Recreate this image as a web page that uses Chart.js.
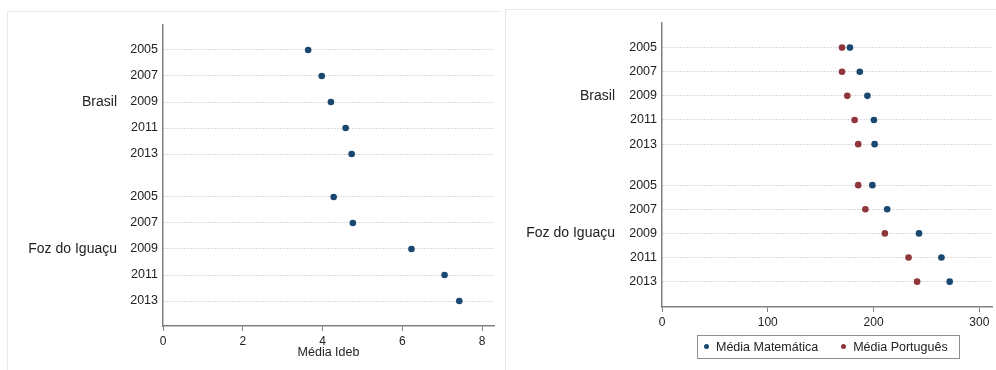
<!DOCTYPE html>
<html>
<head>
<meta charset="utf-8">
<script src="https://cdn.jsdelivr.net/npm/chart.js@4/dist/chart.umd.min.js"></script>
<style>
html,body{margin:0;padding:0;background:#fff;}
body{width:996px;height:370px;position:relative;overflow:hidden;font-family:"Liberation Sans",Arial,sans-serif;}
.panel{position:absolute;border-left:1px solid #e3ebed;border-top:1px solid #e3ebed;}
#p1{left:7px;top:11px;width:493px;height:359px;}
#p2{left:505px;top:9px;width:491px;height:361px;}
canvas{position:absolute;top:0;}
#c1{left:0;}
#c2{left:500px;}
#legend{position:absolute;left:697px;top:335px;width:261px;height:22px;line-height:22px;border:1px solid #8f8f8f;font-size:12.5px;color:#222;white-space:nowrap;padding-left:6px;box-sizing:content-box;width:255px;}
#legend .dot{display:inline-block;width:5px;height:5px;border-radius:50%;vertical-align:middle;margin-right:7px;position:relative;top:-1px;}
#legend .item{display:inline-block;}
#legend .item + .item{margin-left:23px;}
</style>
</head>
<body>
<div class="panel" id="p1"></div>
<div class="panel" id="p2"></div>
<canvas id="c1" width="500" height="370"></canvas>
<canvas id="c2" width="496" height="370"></canvas>
<div id="legend"></div>
<script>
// ---- data ----
const groups = ["Brasil", "Foz do Iguaçu"];
const years = ["2005", "2007", "2009", "2011", "2013"];
const idebBrasil = [3.64, 3.98, 4.21, 4.58, 4.73];
const idebFoz = [4.28, 4.76, 6.23, 7.06, 7.43];
const matBrasil = [177.7, 187.0, 194.2, 200.4, 201.0];
const matFoz = [198.9, 212.9, 243.0, 264.2, 272.0];
const porBrasil = [170.2, 170.2, 175.2, 182.1, 185.5];
const porFoz = [185.5, 192.3, 210.7, 233.1, 241.2];
const seriesNames = ["Média Matemática", "Média Português"];
const idebTitle = "Média Ideb";
const idebTicks = [0, 2, 4, 6, 8];
const scoreTicks = [0, 100, 200, 300];

// ---- styling ----
const NAVY = "#1a476f";
const MAROON = "#90353b";
const FAMILY = '"Liberation Sans", Arial, sans-serif';
const TEXT = "#222";
const AXIS = "#808080";

function rowPos(g, i, gap) { return g * (years.length + gap) + i; }

function points(groupValues, gap) {
  const out = [];
  groupValues.forEach((vals, g) => vals.forEach((v, i) => out.push({x: v, y: rowPos(g, i, gap)})));
  return out;
}

const groupLabelPlugin = {
  id: "groupLabels",
  afterDraw(chart, args, opts) {
    const ys = chart.scales.y, ctx = chart.ctx;
    ctx.save();
    ctx.font = "14px " + FAMILY;
    ctx.fillStyle = TEXT;
    ctx.textAlign = "right";
    ctx.textBaseline = "middle";
    groups.forEach((g, gi) => {
      ctx.fillText(g, opts.x, ys.getPixelForValue(rowPos(gi, 2, opts.gap)));
    });
    ctx.restore();
  }
};

function makeChart(canvas, o) {
  const positions = [];
  const labels = [];
  groups.forEach((g, gi) => years.forEach((y, i) => { positions.push(rowPos(gi, i, o.gap)); labels.push(y); }));
  return new Chart(canvas, {
    type: "scatter",
    data: {datasets: o.datasets},
    plugins: [groupLabelPlugin],
    options: {
      responsive: false,
      animation: false,
      layout: {padding: o.padding},
      plugins: {
        legend: {display: false},
        tooltip: {enabled: false},
        groupLabels: {x: o.groupX, gap: o.gap}
      },
      scales: {
        x: {
          type: "linear", min: 0, max: o.xmax,
          afterBuildTicks: s => { s.ticks = o.xticks.map(v => ({value: v})); },
          afterFit: s => { s.height = o.xh; },
          grid: {drawOnChartArea: false, drawTicks: true, tickLength: 5, tickColor: AXIS, tickWidth: 1},
          border: {color: AXIS, width: 1.5},
          ticks: {font: {size: 12, family: FAMILY}, color: TEXT, padding: 3, maxRotation: 0, autoSkip: false},
          title: {display: !!o.xtitle, text: o.xtitle || "", font: {size: 12.5, family: FAMILY}, color: TEXT, padding: 0}
        },
        y: {
          type: "linear", reverse: true, min: o.ymin, max: o.ymax,
          afterBuildTicks: s => { s.ticks = positions.map(v => ({value: v})); },
          afterFit: s => { s.width = o.yw; },
          grid: {color: "#b8b8b8", lineWidth: 1, drawTicks: false},
          border: {color: AXIS, width: 1.5, dash: [1, 2]},
          ticks: {
            callback: (v, i) => labels[i],
            font: {size: 12.5, family: FAMILY}, color: TEXT, padding: 5, autoSkip: false
          }
        }
      }
    }
  });
}

makeChart(document.getElementById("c1"), {
  gap: 0.65, ymin: -0.96, ymax: 10.61,
  xmax: 8.3, xticks: idebTicks, xtitle: idebTitle,
  xh: 34, yw: 163, groupX: 117,
  padding: {left: 0, right: 6, top: 25, bottom: 10},
  datasets: [{
    label: idebTitle,
    data: points([idebBrasil, idebFoz], 0.65),
    backgroundColor: NAVY, borderColor: NAVY, borderWidth: 0, pointRadius: 3.3
  }]
});

makeChart(document.getElementById("c2"), {
  gap: 0.7, ymin: -1.02, ymax: 10.75,
  xmax: 312, xticks: scoreTicks, xtitle: "",
  xh: 30, yw: 162, groupX: 115,
  padding: {left: 0, right: 0, top: 23, bottom: 33},
  datasets: [{
    label: seriesNames[0],
    data: points([matBrasil, matFoz], 0.7),
    backgroundColor: NAVY, borderColor: NAVY, borderWidth: 0, pointRadius: 3.3
  }, {
    label: seriesNames[1],
    data: points([porBrasil, porFoz], 0.7),
    backgroundColor: MAROON, borderColor: MAROON, borderWidth: 0, pointRadius: 3.3
  }]
});

// HTML legend built from series names
const legendColors = [NAVY, MAROON];
const leg = document.getElementById("legend");
seriesNames.forEach((n, i) => {
  const item = document.createElement("span");
  item.className = "item";
  const dot = document.createElement("span");
  dot.className = "dot";
  dot.style.background = legendColors[i];
  item.appendChild(dot);
  item.appendChild(document.createTextNode(n));
  leg.appendChild(item);
});
</script>
</body>
</html>
